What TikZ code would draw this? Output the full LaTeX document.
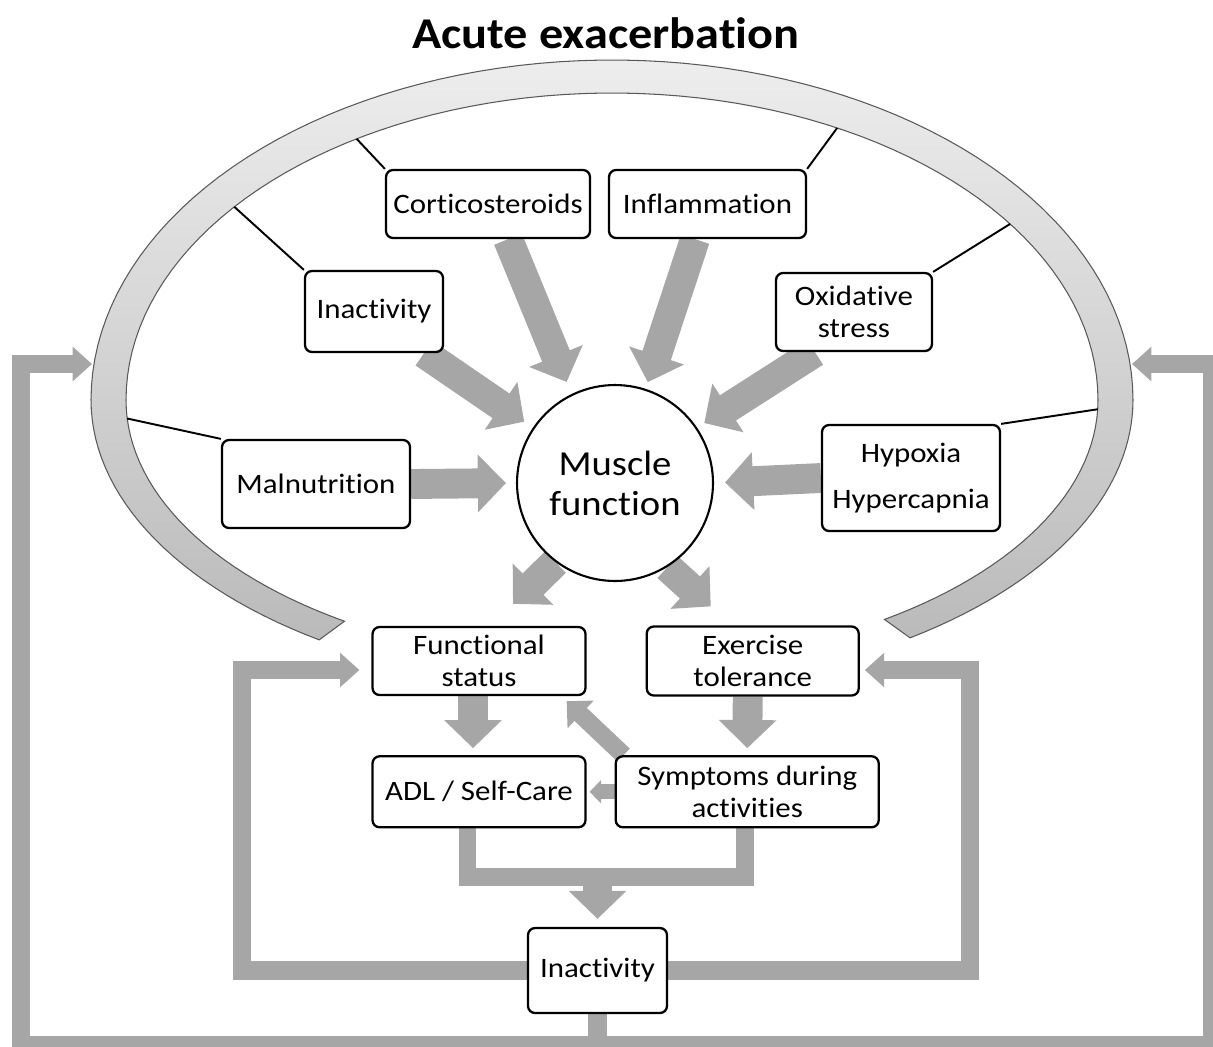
\documentclass[tikz,border=0pt]{standalone}
\usepackage{fontspec}
\setmainfont{Carlito}[FakeStretch=1.1, Ligatures=NoCommon]
\usetikzlibrary{positioning, arrows.meta, backgrounds}

\definecolor{arrowgray}{HTML}{A6A6A6}

\tikzset{
  box/.style={draw, line width=1.3pt, rounded corners=4pt, fill=white, align=center,
    font=\fontsize{16}{18.5}\selectfont, inner sep=2pt},
  fat/.style={draw=arrowgray, line width=17pt, -{Triangle[width=32pt,length=16pt]}},
  slim/.style={draw=arrowgray, line width=10.2pt, -{Triangle[width=21pt,length=11pt]}},
  tiny/.style={draw=arrowgray, line width=8.5pt, -{Triangle[width=13pt,length=6.5pt]}},
  loopbar/.style={draw=arrowgray, line width=10.5pt, line join=miter, -{Triangle[width=19pt,length=11pt]}},
  tie/.style={draw, line width=1.1pt}
}

\begin{document}
\begin{tikzpicture}[x=0.02cm, y=-0.02cm]
  \useasboundingbox (0,0) rectangle (1213,1046);
  \node[font=\fontsize{25}{28}\selectfont\bfseries] (title) at (606,33) {Acute exacerbation};
  \node[circle, draw, line width=1.2pt, fill=white, minimum size=3.92cm, align=center,
        font=\fontsize{20}{22.7}\selectfont] (mf) at (615,483) {Muscle\\function};
  \node[box, minimum width=4.08cm, minimum height=1.36cm] (cort) at (488,204) {Corticosteroids};
  \node[box, minimum width=3.94cm, minimum height=1.36cm] (infl) at (707.5,204) {Inflammation};
  \node[box, minimum width=2.76cm, minimum height=1.62cm] (inact1) at (374,311.5) {Inactivity};
  \node[box, minimum width=3.12cm, minimum height=1.56cm] (oxid) at (854,312) {Oxidative\\stress};
  \node[box, minimum width=3.76cm, minimum height=1.76cm] (malnut) at (316,484) {Malnutrition};
  \node[box, minimum width=3.56cm, minimum height=2.12cm] (hyp) at (911,478) {Hypoxia\\[8pt]Hypercapnia};
  \node[box, minimum width=4.26cm, minimum height=1.36cm] (fstat) at (479,661) {Functional\\status};
  \node[box, minimum width=4.24cm, minimum height=1.38cm, right=1.18cm of fstat] (exer) {Exercise\\tolerance};
  \node[box, minimum width=4.26cm, minimum height=1.42cm, below=1.18cm of fstat] (adl) {ADL / Self-Care};
  \node[box, minimum width=5.26cm, minimum height=1.42cm, right=0.56cm of adl] (symp) {Symptoms during\\activities};
  \node[box, minimum width=2.78cm, minimum height=1.7cm] (inact2) at (597.5,970.5) {Inactivity};

  \coordinate (ringC) at (612,400);
  \path (ringC) ++(238.3:486 and 307) coordinate (rimCort);
  \path (ringC) ++(219:486 and 307) coordinate (rimInact);
  \path (ringC) ++(297.6:486 and 307) coordinate (rimInfl);
  \path (ringC) ++(325:486 and 307) coordinate (rimOxid);
  \path (ringC) ++(176:486 and 265) coordinate (rimMal);
  \path (ringC) ++(2:486 and 265) coordinate (rimHyp);
  \coordinate (ringL) at (92,364);
  \coordinate (ringR) at (1132,364);
  \coordinate (join) at (597.5,868);

  \begin{scope}[on background layer]
    % exacerbation ring
    \draw[draw=black!65, line width=0.6pt, top color=black!7, bottom color=black!27, variable=\t]
      plot[domain=124.2:180, samples=30] ({612+521*cos(\t)},{400+290*sin(\t)})
      -- plot[domain=180:360, samples=80] ({612+521*cos(\t)},{400+340*sin(\t)})
      -- plot[domain=0:55.1, samples=30] ({612+521*cos(\t)},{400+290*sin(\t)})
      -- plot[domain=55.9:0, samples=30] ({612+486*cos(\t)},{400+265*sin(\t)})
      -- plot[domain=360:180, samples=80] ({612+486*cos(\t)},{400+307*sin(\t)})
      -- plot[domain=180:123.4, samples=30] ({612+486*cos(\t)},{400+265*sin(\t)})
      -- cycle;

    \draw[fat, shorten >=0.26cm] ([xshift=0.4cm]cort.south) -- (mf.116);
    \draw[fat, shorten >=0.14cm] ([xshift=-0.25cm]infl.south) -- (mf.72);
    \draw[fat, shorten >=0.21cm] ([xshift=1.0cm]inact1.south) -- (mf.146);
    \draw[fat, shorten >=0.17cm] ([xshift=-0.78cm]oxid.south) -- (mf.34);
    \draw[fat, shorten >=0.2cm] (malnut.east) -- (mf.west);
    \draw[fat, shorten >=0.22cm] (hyp.west) -- (mf.east);
    \draw[fat] (mf.233) -- ([xshift=0.68cm,yshift=0.44cm]fstat.north);
    \draw[fat] (mf.302) -- ([xshift=-0.84cm,yshift=0.38cm]exer.north);
    \draw[fat, shorten >=0.14cm] ([xshift=-0.12cm]fstat.south) -- ([xshift=-0.12cm]adl.north);
    \draw[fat, shorten >=0.14cm] ([xshift=-0.1cm]exer.south) -- (symp.north);
    \draw[slim] ([xshift=0.18cm]symp.north west) -- ([xshift=-0.4cm,yshift=-0.1cm]fstat.south east);
    \draw[tiny, shorten >=0.06cm] (symp.west) -- (adl.east);

    \draw[draw=arrowgray, line width=10.2pt, line join=miter]
      ([xshift=-0.23cm]adl.south) -- ++(0,49) -| ([xshift=-0.04cm]symp.south);
    \draw[fat, shorten >=0.16cm] (join) -- (inact2.north);

    \draw[loopbar, shorten >=0.24cm] (inact2.west) -- ++(-285,0) |- ([yshift=-0.18cm]fstat.west);
    \draw[loopbar, shorten >=0.1cm] (inact2.east) -- ++(302,0) |- ([yshift=-0.18cm]exer.east);
    \draw[loopbar] (inact2.south) -- ++(0,31) -| ([xshift=-1.42cm]ringL) -- (ringL);
    \draw[loopbar] (inact2.south) -- ++(0,31) -| ([xshift=1.6cm]ringR) -- (ringR);
  \end{scope}

  \draw[tie] (cort.north west) -- (rimCort);
  \draw[tie] (inact1.north west) -- (rimInact);
  \draw[tie] (infl.north east) -- (rimInfl);
  \draw[tie] (oxid.north east) -- (rimOxid);
  \draw[tie] (malnut.north west) -- (rimMal);
  \draw[tie] (hyp.north east) -- (rimHyp);
\end{tikzpicture}
\end{document}
